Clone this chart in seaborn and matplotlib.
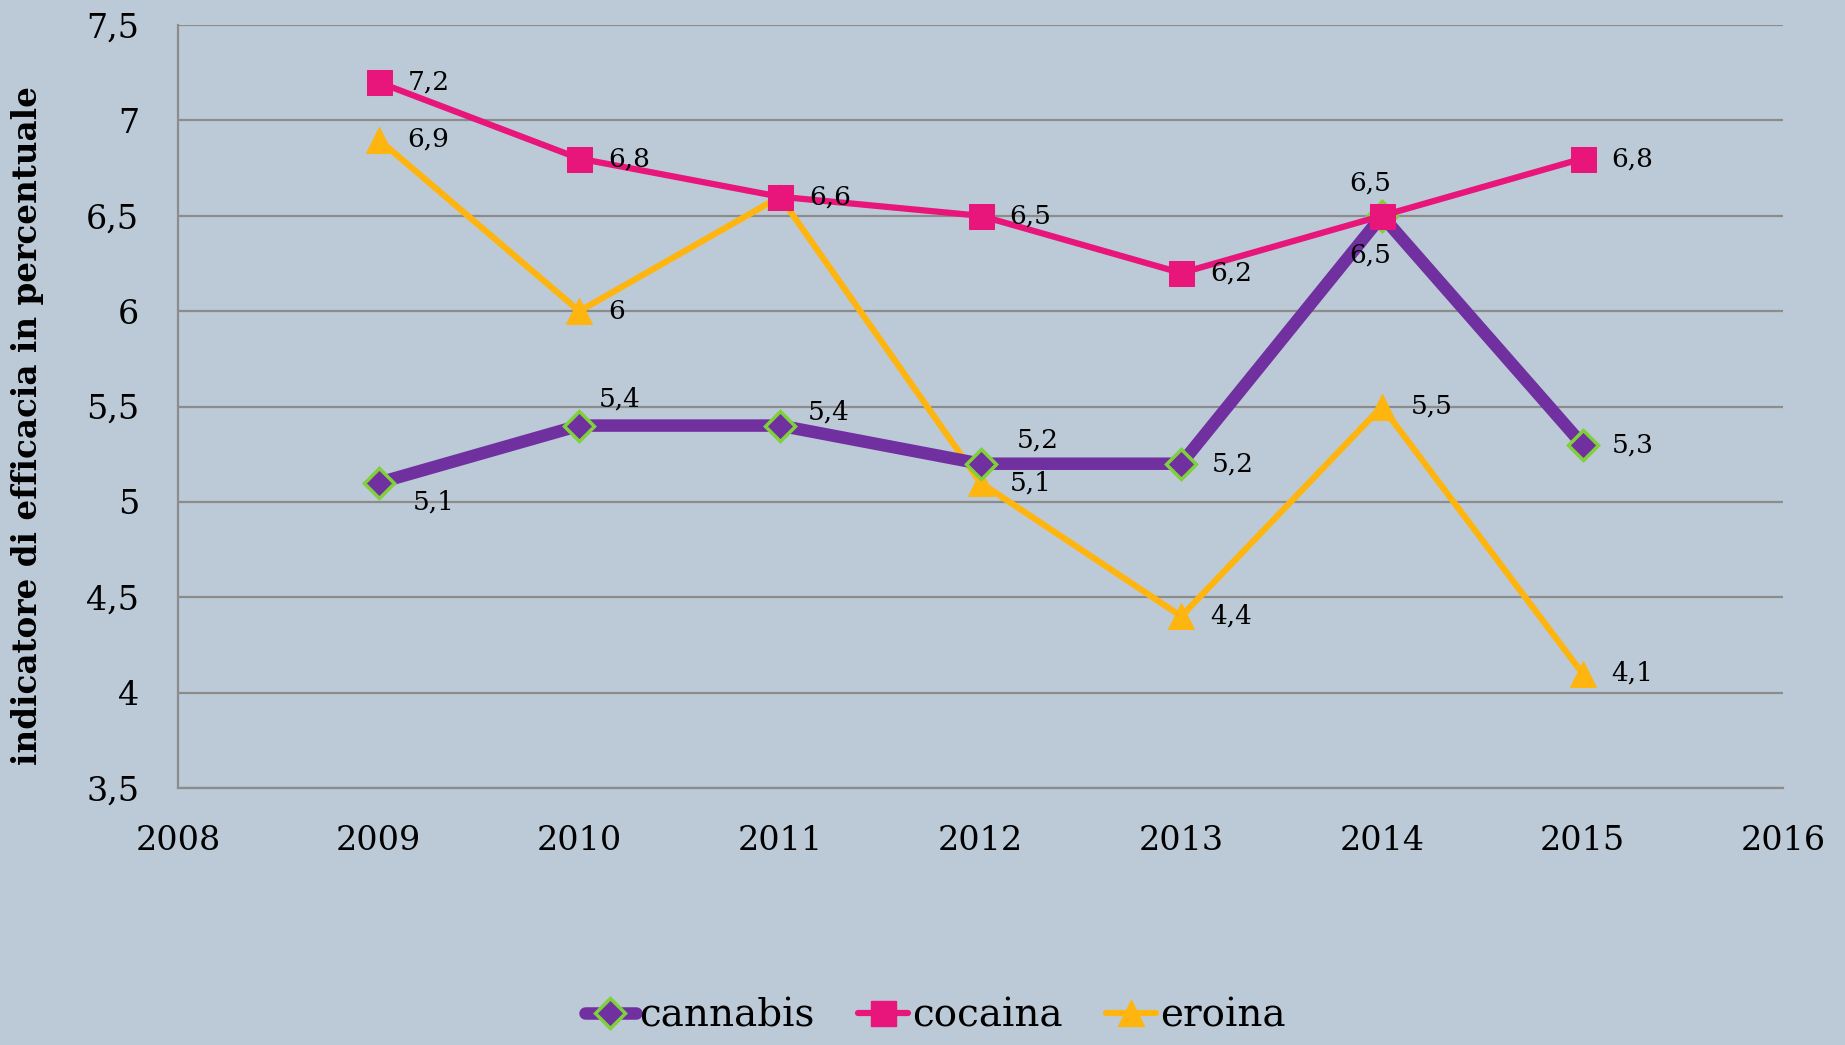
import pandas as pd
import matplotlib
matplotlib.use("Agg")
import matplotlib.pyplot as plt
import seaborn as sns
from matplotlib.lines import Line2D

# data
years = [2009, 2010, 2011, 2012, 2013, 2014, 2015]
cannabis = [5.1, 5.4, 5.4, 5.2, 5.2, 6.5, 5.3]
cocaina = [7.2, 6.8, 6.6, 6.5, 6.2, 6.5, 6.8]
eroina = [6.9, 6.0, 6.6, 5.1, 4.4, 5.5, 4.1]

y_ticks = [3.5, 4, 4.5, 5, 5.5, 6, 6.5, 7, 7.5]
x_ticks = [2008, 2009, 2010, 2011, 2012, 2013, 2014, 2015, 2016]

bg = "#BCCAD7"
purple = "#7030A0"
green = "#7FD13B"
pink = "#E8157B"
amber = "#FFB50F"


def fmt(v):
    s = f"{v:g}"
    return s.replace(".", ",")


sns.set_theme(style="white")
plt.rcParams["font.family"] = ["DejaVu Serif", "DejaVu Sans"]
plt.rcParams["text.color"] = "black"
plt.rcParams["axes.labelcolor"] = "black"

fig = plt.figure(figsize=(18.45, 10.45), dpi=100, facecolor=bg)
ax = fig.add_axes([0.0965, 0.246, 0.87, 0.730])
ax.set_facecolor(bg)

df = pd.DataFrame({"anno": years, "cannabis": cannabis,
                   "cocaina": cocaina, "eroina": eroina})

sns.lineplot(data=df, x="anno", y="eroina", ax=ax, color=amber, lw=4.5,
             marker="^", markersize=19, markeredgecolor=amber, zorder=3)
sns.lineplot(data=df, x="anno", y="cannabis", ax=ax, color=purple, lw=9,
             marker="D", markersize=15, markeredgecolor=green,
             markeredgewidth=2.5, zorder=4)
sns.lineplot(data=df, x="anno", y="cocaina", ax=ax, color=pink, lw=4.5,
             marker="s", markersize=18, markeredgecolor=pink, zorder=5)

# data labels (offsets in pixels)
lab_kw = dict(textcoords="offset pixels", fontsize=19, color="black",
              va="center", zorder=6)
can_off = [(34, -19), (19, 27), (28, 14), (36, 24), (30, 0), (-12, -39), (29, 0)]
for x, v, (dx, dy) in zip(years, cannabis, can_off):
    ha = "center" if dx < 0 else "left"
    ax.annotate(fmt(v), (x, v), xytext=(dx, dy), ha=ha, **lab_kw)

coc_off = [(29, 0)] * 7
coc_off[5] = (-12, 33)
for x, v, (dx, dy) in zip(years, cocaina, coc_off):
    ha = "center" if dx < 0 else "left"
    ax.annotate(fmt(v), (x, v), xytext=(dx, dy), ha=ha, **lab_kw)

for i, (x, v) in enumerate(zip(years, eroina)):
    if i == 2:
        continue  # same spot as cocaina 6,6
    ax.annotate(fmt(v), (x, v), xytext=(29, 0), ha="left", **lab_kw)

ax.set_xlim(2008, 2016)
ax.set_ylim(3.5, 7.5)
ax.set_xticks(x_ticks)
ax.set_xticklabels([str(x) for x in x_ticks])
ax.set_yticks(y_ticks)
ax.set_yticklabels([fmt(v) for v in y_ticks])
ax.tick_params(axis="both", labelsize=24, length=0, colors="black")
ax.tick_params(axis="x", pad=27)
ax.tick_params(axis="y", pad=28)

ax.grid(axis="y", color="#8C8C8C", lw=1.6)
ax.set_axisbelow(True)
for s in ["top", "right"]:
    ax.spines[s].set_visible(False)
for s in ["left", "bottom"]:
    ax.spines[s].set_color("#8C8C8C")
    ax.spines[s].set_linewidth(1.6)

ax.set_xlabel("")
ax.set_ylabel("indicatore di efficacia in percentuale", fontsize=23.5,
              fontweight="bold", color="black", va="center")
ax.yaxis.set_label_coords(-0.094, 0.475)

handles = [
    Line2D([], [], color=purple, lw=9, marker="D", markersize=15,
           markerfacecolor=purple, markeredgecolor=green, markeredgewidth=2.5),
    Line2D([], [], color=pink, lw=4.5, marker="s", markersize=18,
           markeredgecolor=pink),
    Line2D([], [], color=amber, lw=4.5, marker="^", markersize=19,
           markeredgecolor=amber),
]
leg = fig.legend(handles, ["cannabis", "cocaina", "eroina"], loc="center",
                 bbox_to_anchor=(0.507, 0.028), ncol=3, frameon=False,
                 fontsize=28, handlelength=1.3, handletextpad=0.1,
                 columnspacing=1.1)
for t in leg.get_texts():
    t.set_color("black")

fig.savefig("out.png", dpi=100, facecolor=bg)
